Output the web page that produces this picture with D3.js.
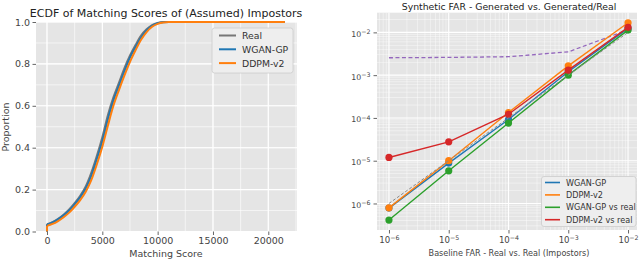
<!DOCTYPE html>
<html><head><meta charset="utf-8">
<script src="https://cdn.jsdelivr.net/npm/d3@7"></script>
<style>body{margin:0;background:#fff} svg{display:block} text{font-family:"DejaVu Sans",sans-serif}</style>
</head><body><svg id="c" width="640" height="261"></svg>
<script>
// ---------- Left chart data (ECDF) ----------
const ecdfScores = [0, 0, 500, 1000, 1500, 2000, 2500, 3000, 3500, 4000, 4500, 5000, 5500, 6000, 6500, 7000, 7500, 8000, 8500, 9000, 9500, 10000, 10500, 11000, 21500];
const realProp   = [0, 0.035, 0.045, 0.06, 0.08, 0.105, 0.135, 0.17, 0.215, 0.28, 0.36, 0.45, 0.555, 0.64, 0.71, 0.78, 0.84, 0.89, 0.935, 0.965, 0.985, 0.996, 1.0, 1.0, 1.0];
const wganProp   = [0, 0.033, 0.043, 0.058, 0.077, 0.10, 0.13, 0.163, 0.205, 0.265, 0.345, 0.43, 0.535, 0.625, 0.695, 0.765, 0.83, 0.88, 0.925, 0.96, 0.982, 0.994, 0.999, 1.0, 1.0];
const ddpmProp   = [0, 0.027, 0.036, 0.05, 0.068, 0.09, 0.118, 0.15, 0.19, 0.245, 0.32, 0.405, 0.505, 0.6, 0.675, 0.745, 0.81, 0.865, 0.915, 0.952, 0.977, 0.991, 0.998, 1.0, 1.0];
const ecdfSeriesNames = ["Real", "WGAN-GP", "DDPM-v2"];
const ecdfXTicks = [0, 5000, 10000, 15000, 20000];
const ecdfYTicks = [0, 0.2, 0.4, 0.6, 0.8, 1.0];

// ---------- Right chart data (FAR) ----------
const farBaseline  = [1e-6, 1e-5, 1e-4, 1e-3, 1e-2];
const farWgan      = [7.8e-7, 8.8e-6, 9.2e-5, 1.2e-3, 1.24e-2];
const farDdpm      = [7.9e-7, 1.0e-5, 1.34e-4, 1.65e-3, 1.68e-2];
const farWganReal  = [4.1e-7, 5.8e-6, 7.6e-5, 1.0e-3, 1.13e-2];
const farDdpmReal  = [1.19e-5, 2.76e-5, 1.22e-4, 1.31e-3, 1.31e-2];
const farOther     = [2.55e-3, 2.6e-3, 2.7e-3, 3.5e-3, 1.15e-2];
const farIdentity  = [1e-6, 1e-5, 1e-4, 1e-3, 1e-2];
const farSeriesNames = ["WGAN-GP", "DDPM-v2", "WGAN-GP vs real", "DDPM-v2 vs real"];
const farXTickExp = [-6, -5, -4, -3, -2];
const farYTickExp = [-6, -5, -4, -3, -2];

const C = {blue:"#1f77b4", orange:"#ff7f0e", green:"#2ca02c", red:"#d62728", purple:"#9467bd", gray:"#777777"};
const svg = d3.select("#c");
const BG = "#E5E5E5";

// ================= LEFT =================
(function(){
  const L = {l:36, r:297, t:22, b:231.5};
  const x = d3.scaleLinear().domain([-994, 22594]).range([L.l, L.r]);
  const y = d3.scaleLinear().domain([0, 1]).range([L.b, L.t]);
  const g = svg.append("g");
  g.append("rect").attr("x",L.l).attr("y",L.t).attr("width",L.r-L.l).attr("height",L.b-L.t).attr("fill",BG);
  // minor grid
  const xMinor = d3.range(-2500, 22600, 2500).filter(v=>x(v)>L.l && x(v)<L.r);
  const yMinor = d3.range(0, 1.01, 0.1);
  g.selectAll(".xm").data(xMinor).join("line").attr("x1",d=>x(d)).attr("x2",d=>x(d)).attr("y1",L.t).attr("y2",L.b).attr("stroke","#fff").attr("stroke-width",0.6);
  g.selectAll(".ym").data(yMinor).join("line").attr("y1",d=>y(d)).attr("y2",d=>y(d)).attr("x1",L.l).attr("x2",L.r).attr("stroke","#fff").attr("stroke-width",0.6);
  g.selectAll(".xg").data(ecdfXTicks).join("line").attr("x1",d=>x(d)).attr("x2",d=>x(d)).attr("y1",L.t).attr("y2",L.b).attr("stroke","#fff").attr("stroke-width",1.1);
  g.selectAll(".yg").data(ecdfYTicks).join("line").attr("y1",d=>y(d)).attr("y2",d=>y(d)).attr("x1",L.l).attr("x2",L.r).attr("stroke","#fff").attr("stroke-width",1.1);

  const line = d3.line().x(d=>x(d[0])).y(d=>y(d[1])).curve(d3.curveMonotoneX);
  const series = [realProp, wganProp, ddpmProp];
  const cols = [C.gray, C.blue, C.orange];
  series.forEach((s,i)=>{
    const pts = ecdfScores.map((v,j)=>[v, s[j]]);
    // vertical jump at 0 then smooth
    const p = d3.path();
    g.append("path").attr("d", "M"+x(pts[0][0])+","+y(pts[0][1])+"L"+x(pts[1][0])+","+y(pts[1][1]))
      .attr("stroke", cols[i]).attr("stroke-width",2).attr("fill","none");
    g.append("path").attr("d", line(pts.slice(1))).attr("stroke", cols[i]).attr("stroke-width",2).attr("fill","none");
  });

  const ax = g.append("g").attr("transform",`translate(0,${L.b})`)
    .call(d3.axisBottom(x).tickValues(ecdfXTicks).tickFormat(d3.format("d")).tickSize(3.5).tickPadding(2.5));
  ax.select(".domain").remove();
  ax.selectAll("line").attr("stroke","#555").attr("stroke-width",0.9);
  ax.selectAll("text").attr("fill","#444").attr("font-size","9.5px").attr("font-family","DejaVu Sans");
  const ay = g.append("g").attr("transform",`translate(${L.l},0)`)
    .call(d3.axisLeft(y).tickValues(ecdfYTicks).tickFormat(d3.format(".1f")).tickSize(3.5).tickPadding(2.5));
  ay.select(".domain").remove();
  ay.selectAll("line").attr("stroke","#555").attr("stroke-width",0.9);
  ay.selectAll("text").attr("fill","#444").attr("font-size","9.5px").attr("font-family","DejaVu Sans");

  g.append("text").attr("x",166).attr("y",16.5).attr("text-anchor","middle").attr("font-size","11px").attr("fill","#222")
    .text("ECDF of Matching Scores of (Assumed) Impostors");
  g.append("text").attr("x",166).attr("y",257).attr("text-anchor","middle").attr("font-size","9.5px").attr("fill","#444").text("Matching Score");
  g.append("text").attr("transform","translate(9,127) rotate(-90)").attr("text-anchor","middle").attr("font-size","9.5px").attr("fill","#444").text("Proportion");

  // legend
  const lg = g.append("g");
  lg.append("rect").attr("x",212).attr("y",28).attr("width",81).attr("height",45).attr("rx",2.5)
    .attr("fill","#EEEEEE").attr("stroke","#CCCCCC").attr("stroke-width",0.8);
  ecdfSeriesNames.forEach((n,i)=>{
    const yy = 35.5 + i*13.8;
    lg.append("line").attr("x1",219).attr("x2",236).attr("y1",yy).attr("y2",yy).attr("stroke",cols[i]).attr("stroke-width",2);
    lg.append("text").attr("x",242).attr("y",yy+3.4).attr("font-size","9.3px").attr("fill","#333").text(n);
  });
})();

// ================= RIGHT =================
(function(){
  const R = {l:377, r:637, t:12.7, b:230};
  const x = d3.scaleLog().domain([Math.pow(10,-6.2), Math.pow(10,-1.85)]).range([R.l, R.r]);
  const y = d3.scaleLog().domain([Math.pow(10,-6.62), Math.pow(10,-1.54)]).range([R.b, R.t]);
  const g = svg.append("g");
  g.append("rect").attr("x",R.l).attr("y",R.t).attr("width",R.r-R.l).attr("height",R.b-R.t).attr("fill",BG);
  const minorX = [], minorY = [];
  for (let e=-7;e<=-1;e++) for (let m=2;m<=9;m++){ const v=m*Math.pow(10,e);
    if (x(v)>R.l && x(v)<R.r) minorX.push(v); if (y(v)<R.b && y(v)>R.t) minorY.push(v); }
  g.selectAll(".xm").data(minorX).join("line").attr("x1",d=>x(d)).attr("x2",d=>x(d)).attr("y1",R.t).attr("y2",R.b).attr("stroke","#fff").attr("stroke-width",0.5).attr("opacity",0.9);
  g.selectAll(".ym").data(minorY).join("line").attr("y1",d=>y(d)).attr("y2",d=>y(d)).attr("x1",R.l).attr("x2",R.r).attr("stroke","#fff").attr("stroke-width",0.5).attr("opacity",0.9);
  const xMaj = farXTickExp.map(e=>Math.pow(10,e)), yMaj = farYTickExp.map(e=>Math.pow(10,e));
  g.selectAll(".xg").data(xMaj).join("line").attr("x1",d=>x(d)).attr("x2",d=>x(d)).attr("y1",R.t).attr("y2",R.b).attr("stroke","#fff").attr("stroke-width",1.1);
  g.selectAll(".yg").data(yMaj).join("line").attr("y1",d=>y(d)).attr("y2",d=>y(d)).attr("x1",R.l).attr("x2",R.r).attr("stroke","#fff").attr("stroke-width",1.1);

  const line = d3.line().x(d=>x(d[0])).y(d=>y(d[1]));
  const mk = arr => farBaseline.map((b,i)=>[b, arr[i]]);
  g.append("path").attr("d", line(mk(farOther))).attr("stroke",C.purple).attr("stroke-width",1.3).attr("stroke-dasharray","4,2.5").attr("fill","none");
  const series = [farWgan, farDdpm, farWganReal, farDdpmReal];
  const cols = [C.blue, C.orange, C.green, C.red];
  series.forEach((s,i)=>{
    g.append("path").attr("d", line(mk(s))).attr("stroke",cols[i]).attr("stroke-width",1.4).attr("fill","none");
    g.selectAll(null).data(mk(s)).join("circle").attr("cx",d=>x(d[0])).attr("cy",d=>y(d[1])).attr("r",3.6).attr("fill",cols[i]);
  });
  g.append("path").attr("d", line(mk(farIdentity))).attr("stroke","#888").attr("stroke-width",1).attr("stroke-dasharray","3,2").attr("fill","none");

  const sup = (sel, exps) => {
    sel.selectAll("text").each(function(d){
      const t = d3.select(this); t.text(null);
      const e = Math.round(Math.log10(d));
      t.append("tspan").text("10");
      t.append("tspan").attr("dy","-0.45em").attr("font-size","6.3px").text("\u2212"+Math.abs(e));
    });
  };
  const ax = g.append("g").attr("transform",`translate(0,${R.b})`)
    .call(d3.axisBottom(x).tickValues(xMaj).tickSize(3.5).tickPadding(3));
  ax.select(".domain").remove();
  ax.selectAll("line").attr("stroke","#555").attr("stroke-width",0.9);
  ax.selectAll("text").attr("fill","#444").attr("font-size","8.6px").attr("font-family","DejaVu Sans");
  sup(ax);
  const ay = g.append("g").attr("transform",`translate(${R.l},0)`)
    .call(d3.axisLeft(y).tickValues(yMaj).tickSize(3.5).tickPadding(3));
  ay.select(".domain").remove();
  ay.selectAll("line").attr("stroke","#555").attr("stroke-width",0.9);
  ay.selectAll("text").attr("fill","#444").attr("font-size","7.8px").attr("font-family","DejaVu Sans");
  sup(ay);
  ay.selectAll("text").attr("dy","0.5em");

  g.append("text").attr("x",509).attr("y",10).attr("text-anchor","middle").attr("font-size","9.3px").attr("fill","#222")
    .text("Synthetic FAR - Generated vs. Generated/Real");
  g.append("text").attr("x",509).attr("y",256).attr("text-anchor","middle").attr("font-size","8.1px").attr("fill","#444")
    .text("Baseline FAR - Real vs. Real (Impostors)");

  const lg = g.append("g");
  lg.append("rect").attr("x",541.5).attr("y",176.5).attr("width",94.5).attr("height",50).attr("rx",2.5)
    .attr("fill","#EEEEEE").attr("stroke","#CCCCCC").attr("stroke-width",0.8);
  farSeriesNames.forEach((n,i)=>{
    const yy = 182.5 + i*12.4;
    lg.append("line").attr("x1",545).attr("x2",560).attr("y1",yy).attr("y2",yy).attr("stroke",cols[i]).attr("stroke-width",1.6);
    lg.append("text").attr("x",566).attr("y",yy+3).attr("font-size","8.1px").attr("fill","#333").text(n);
  });
})();
</script></body></html>
